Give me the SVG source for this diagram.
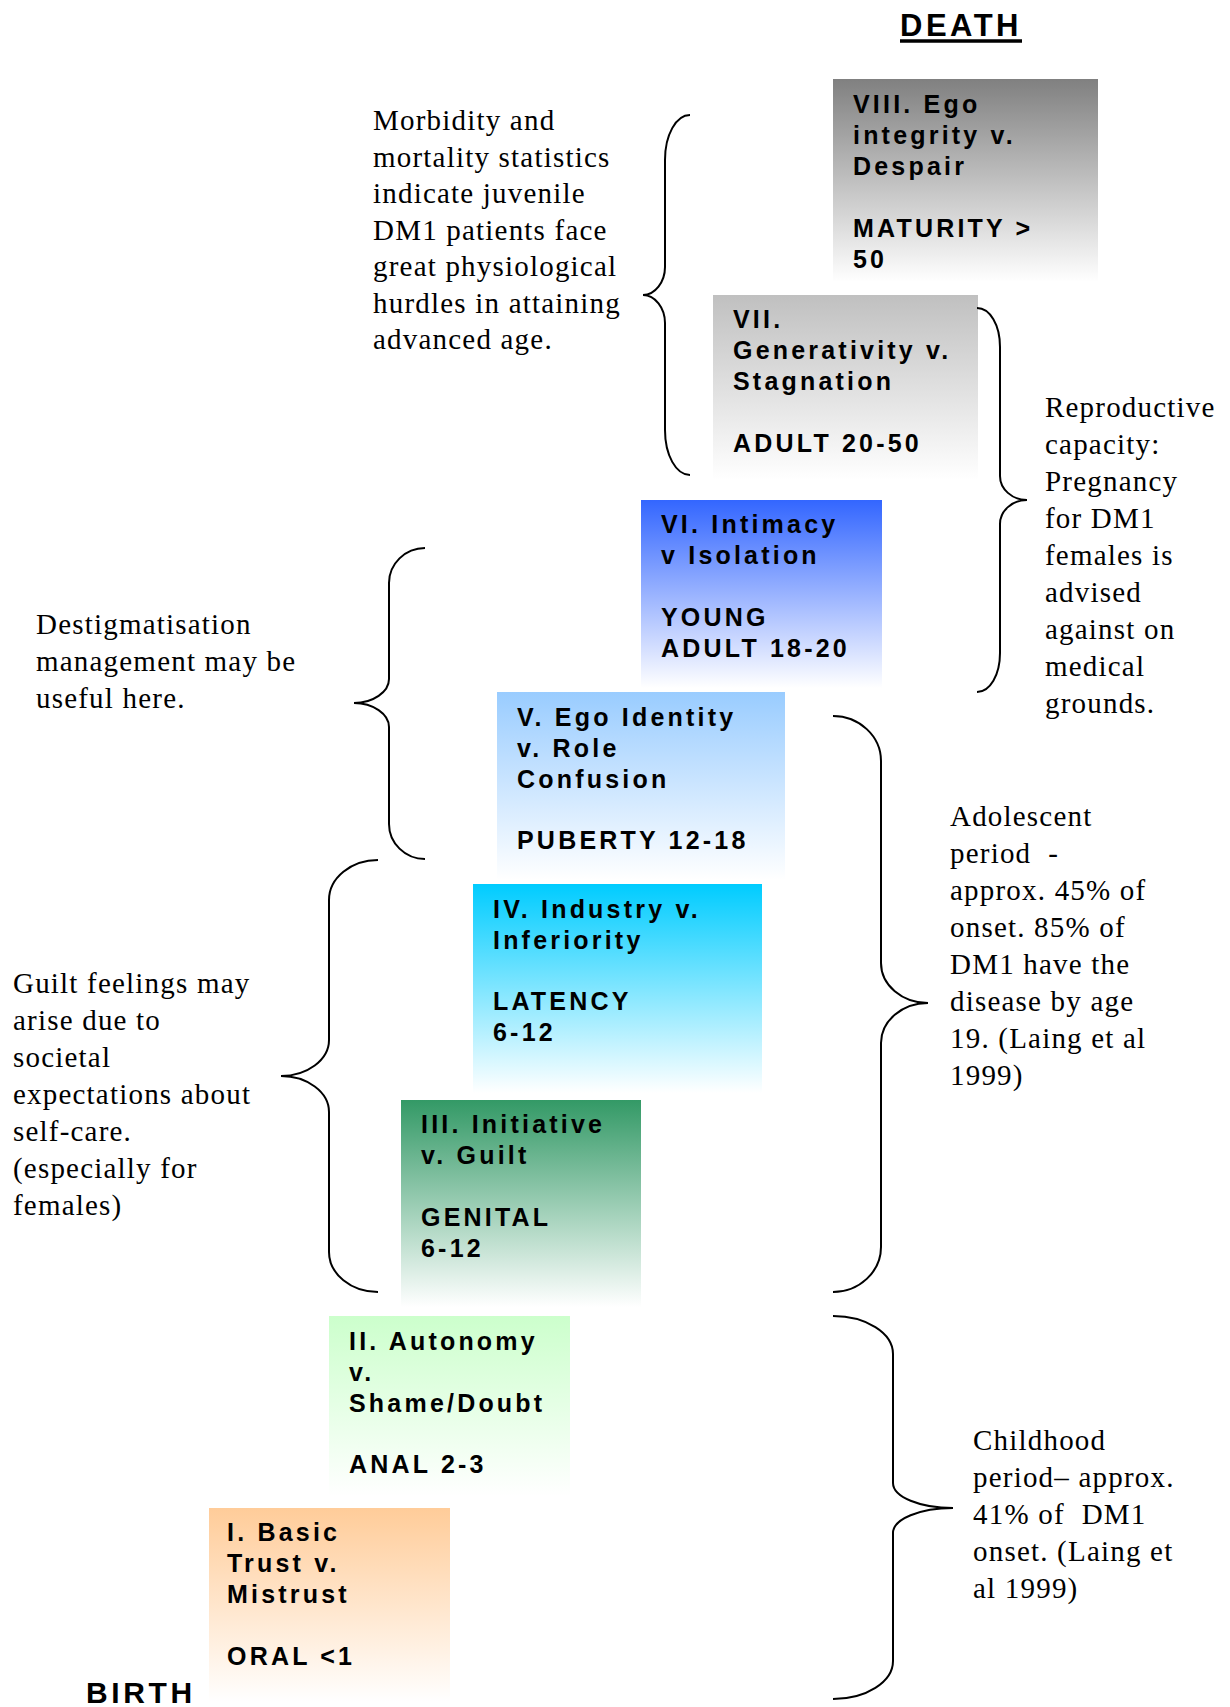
<svg xmlns="http://www.w3.org/2000/svg" width="1230" height="1707" viewBox="0 0 1230 1707">
<style>
.bx{font-family:"Liberation Sans",Arial,sans-serif;font-weight:bold;font-size:25px;letter-spacing:3.2px;fill:#000}
.big{font-family:"Liberation Sans",Arial,sans-serif;font-weight:bold;fill:#000}
.note{font-family:"Liberation Serif","Times New Roman",serif;font-size:29px;letter-spacing:1.2px;fill:#000}
.brace{fill:none;stroke:#000;stroke-width:2}
</style>
<defs>
<linearGradient id="g8" x1="0" y1="0" x2="0" y2="1"><stop offset="0" stop-color="#808080"/><stop offset="1" stop-color="#ffffff"/></linearGradient>
<linearGradient id="g7" x1="0" y1="0" x2="0" y2="1"><stop offset="0" stop-color="#c0c0c0"/><stop offset="1" stop-color="#ffffff"/></linearGradient>
<linearGradient id="g6" x1="0" y1="0" x2="0" y2="1"><stop offset="0" stop-color="#3366ff"/><stop offset="1" stop-color="#ffffff"/></linearGradient>
<linearGradient id="g5" x1="0" y1="0" x2="0" y2="1"><stop offset="0" stop-color="#99ccff"/><stop offset="1" stop-color="#ffffff"/></linearGradient>
<linearGradient id="g4" x1="0" y1="0" x2="0" y2="1"><stop offset="0" stop-color="#00ccff"/><stop offset="1" stop-color="#ffffff"/></linearGradient>
<linearGradient id="g3" x1="0" y1="0" x2="0" y2="1"><stop offset="0" stop-color="#339966"/><stop offset="1" stop-color="#ffffff"/></linearGradient>
<linearGradient id="g2" x1="0" y1="0" x2="0" y2="1"><stop offset="0" stop-color="#ccffcc"/><stop offset="1" stop-color="#ffffff"/></linearGradient>
<linearGradient id="g1" x1="0" y1="0" x2="0" y2="1"><stop offset="0" stop-color="#ffcc99"/><stop offset="1" stop-color="#ffffff"/></linearGradient>
</defs>
<rect width="1230" height="1707" fill="#fff"/>

<g id="death">
<text class="big" x="900" y="36" font-size="31" letter-spacing="3.5">DEATH</text>
<line x1="900" y1="41" x2="1022" y2="41" stroke="#000" stroke-width="3.5"/>
</g>
<g id="birth">
<text class="big" x="86" y="1703" font-size="30" letter-spacing="3.6">BIRTH</text>
</g>

<g id="stage8">
<rect x="833" y="79" width="265" height="203" fill="url(#g8)"/>
<text class="bx" x="853" y="113">VIII. Ego</text>
<text class="bx" x="853" y="144">integrity v.</text>
<text class="bx" x="853" y="175">Despair</text>
<text class="bx" x="853" y="237">MATURITY &gt;</text>
<text class="bx" x="853" y="268">50</text>
</g>
<g id="stage7">
<rect x="713" y="295" width="265" height="185" fill="url(#g7)"/>
<text class="bx" x="733" y="328">VII.</text>
<text class="bx" x="733" y="359">Generativity v.</text>
<text class="bx" x="733" y="390">Stagnation</text>
<text class="bx" x="733" y="452">ADULT 20-50</text>
</g>
<g id="stage6">
<rect x="641" y="500" width="241" height="188" fill="url(#g6)"/>
<text class="bx" x="661" y="533">VI. Intimacy</text>
<text class="bx" x="661" y="564">v Isolation</text>
<text class="bx" x="661" y="626">YOUNG</text>
<text class="bx" x="661" y="657">ADULT 18-20</text>
</g>
<g id="stage5">
<rect x="497" y="692" width="288" height="188" fill="url(#g5)"/>
<text class="bx" x="517" y="726">V. Ego Identity</text>
<text class="bx" x="517" y="757">v. Role</text>
<text class="bx" x="517" y="788">Confusion</text>
<text class="bx" x="517" y="849">PUBERTY 12-18</text>
</g>
<g id="stage4">
<rect x="473" y="884" width="289" height="209" fill="url(#g4)"/>
<text class="bx" x="493" y="918">IV. Industry v.</text>
<text class="bx" x="493" y="949">Inferiority</text>
<text class="bx" x="493" y="1010">LATENCY</text>
<text class="bx" x="493" y="1041">6-12</text>
</g>
<g id="stage3">
<rect x="401" y="1100" width="240" height="207" fill="url(#g3)"/>
<text class="bx" x="421" y="1133">III. Initiative</text>
<text class="bx" x="421" y="1164">v. Guilt</text>
<text class="bx" x="421" y="1226">GENITAL</text>
<text class="bx" x="421" y="1257">6-12</text>
</g>
<g id="stage2">
<rect x="329" y="1316" width="241" height="180" fill="url(#g2)"/>
<text class="bx" x="349" y="1350">II. Autonomy</text>
<text class="bx" x="349" y="1381">v.</text>
<text class="bx" x="349" y="1412">Shame/Doubt</text>
<text class="bx" x="349" y="1473">ANAL 2-3</text>
</g>
<g id="stage1">
<rect x="209" y="1508" width="241" height="194" fill="url(#g1)"/>
<text class="bx" x="227" y="1541">I. Basic</text>
<text class="bx" x="227" y="1572">Trust v.</text>
<text class="bx" x="227" y="1603">Mistrust</text>
<text class="bx" x="227" y="1665">ORAL &lt;1</text>
</g>

<g id="note-morbidity">
<text class="note" x="373" y="130">Morbidity and</text>
<text class="note" x="373" y="166.5">mortality statistics</text>
<text class="note" x="373" y="203">indicate juvenile</text>
<text class="note" x="373" y="239.5">DM1 patients face</text>
<text class="note" x="373" y="276">great physiological</text>
<text class="note" x="373" y="312.5">hurdles in attaining</text>
<text class="note" x="373" y="349">advanced age.</text>
</g>
<g id="note-reproductive">
<text class="note" x="1045" y="417">Reproductive</text>
<text class="note" x="1045" y="454">capacity:</text>
<text class="note" x="1045" y="491">Pregnancy</text>
<text class="note" x="1045" y="528">for DM1</text>
<text class="note" x="1045" y="565">females is</text>
<text class="note" x="1045" y="602">advised</text>
<text class="note" x="1045" y="639">against on</text>
<text class="note" x="1045" y="676">medical</text>
<text class="note" x="1045" y="713">grounds.</text>
</g>
<g id="note-destig">
<text class="note" x="36" y="634">Destigmatisation</text>
<text class="note" x="36" y="671">management may be</text>
<text class="note" x="36" y="708">useful here.</text>
</g>
<g id="note-guilt">
<text class="note" x="13" y="993">Guilt feelings may</text>
<text class="note" x="13" y="1030">arise due to</text>
<text class="note" x="13" y="1067">societal</text>
<text class="note" x="13" y="1104">expectations about</text>
<text class="note" x="13" y="1141">self-care.</text>
<text class="note" x="13" y="1178">(especially for</text>
<text class="note" x="13" y="1215">females)</text>
</g>
<g id="note-adolescent">
<text class="note" x="950" y="826">Adolescent</text>
<text class="note" x="950" y="863">period&#160; -</text>
<text class="note" x="950" y="900">approx. 45% of</text>
<text class="note" x="950" y="937">onset. 85% of</text>
<text class="note" x="950" y="974">DM1 have the</text>
<text class="note" x="950" y="1011">disease by age</text>
<text class="note" x="950" y="1048">19. (Laing et al</text>
<text class="note" x="950" y="1085">1999)</text>
</g>
<g id="note-childhood">
<text class="note" x="973" y="1450">Childhood</text>
<text class="note" x="973" y="1487">period– approx.</text>
<text class="note" x="973" y="1524">41% of&#160; DM1</text>
<text class="note" x="973" y="1561">onset. (Laing et</text>
<text class="note" x="973" y="1598">al 1999)</text>
</g>

<g id="connectors">
<path class="brace" d="M690,115 C676,115 665,135 665,160 L665,267 C665,282 655,295 643,295 C655,295 665,308 665,323 L665,430 C665,455 676,475 690,475"/>
<path class="brace" d="M977,308 C990,308 1000,325 1000,347 L1000,476 C1000,489 1012,500 1027,500 C1012,500 1000,511 1000,524 L1000,653 C1000,675 990,692 977,692"/>
<path class="brace" d="M425,548 C405,548 389,564 389,583 L389,679 C389,692 373,703 354,703 C373,703 389,714 389,727 L389,824 C389,843 405,859 425,859"/>
<path class="brace" d="M378,860 C351,860 329,878 329,900 L329,1040 C329,1060 307,1076 281,1076 C307,1076 329,1092 329,1112 L329,1252 C329,1274 351,1292 378,1292"/>
<path class="brace" d="M833,716 C859,716 881,736 881,761 L881,963 C881,985 902,1003 928,1003 C902,1003 881,1021 881,1043 L881,1247 C881,1272 859,1292 833,1292"/>
<path class="brace" d="M833,1316 C866,1316 893,1333 893,1354 L893,1483 C893,1497 920,1508 953,1508 C920,1508 893,1519 893,1533 L893,1661 C893,1682 866,1699 833,1699"/>
</g>
</svg>
